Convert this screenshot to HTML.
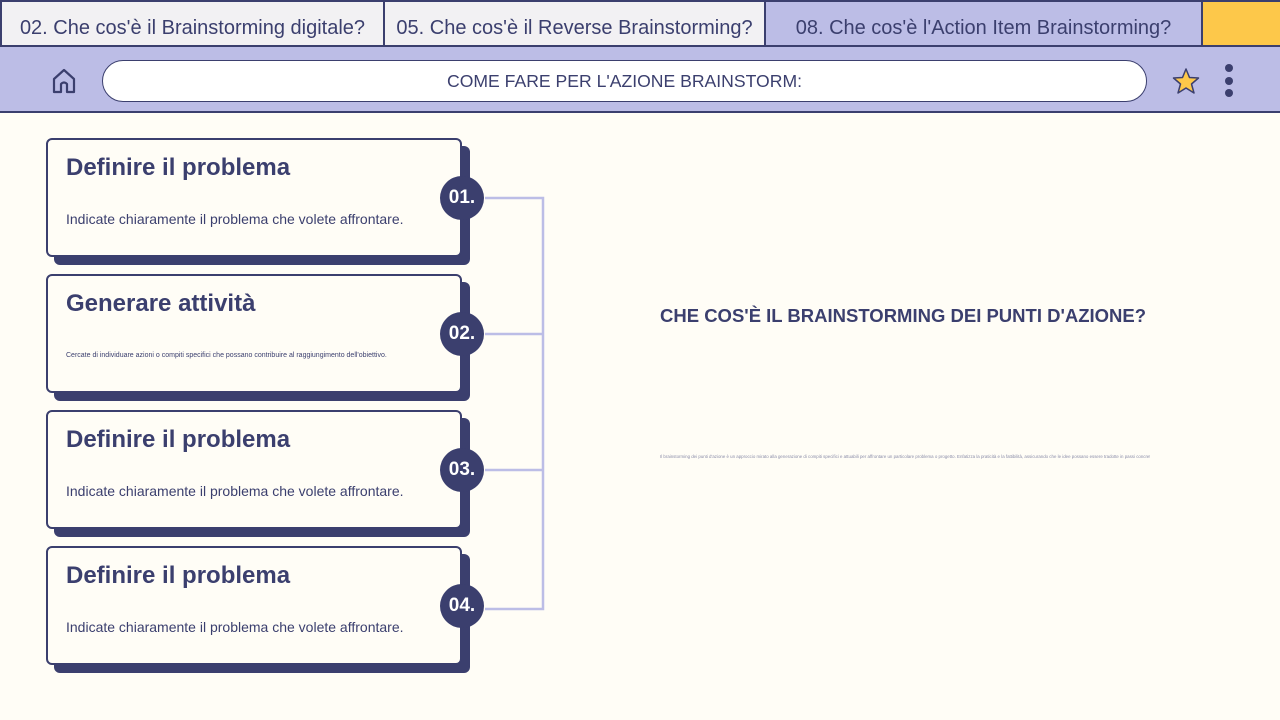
<!DOCTYPE html><html><head><style>
body{margin:0;width:1280px;height:720px;background:#fffdf6;font-family:"Liberation Sans",sans-serif;position:relative;overflow:hidden;color:#3b3f6e}
.tab{position:absolute;top:0;height:47px;border:2px solid #3b3f6e;box-sizing:border-box;font-size:20px;line-height:52px;text-align:center;background:#f2f1f3}
.hdr{position:absolute;top:47px;left:0;width:1280px;height:66px;background:#bcbde6;border-bottom:2px solid #3b3f6e;box-sizing:border-box}
.pill{position:absolute;left:102px;top:60px;width:1045px;height:42px;background:#fff;border:1px solid #3b3f6e;border-radius:21px;box-sizing:border-box;text-align:center;line-height:40px;font-size:17.6px}
.sh{position:absolute;width:416px;height:119px;background:#3b3f6e;border-radius:6px}
.card{position:absolute;width:416px;height:119px;background:#fffdf6;border:2px solid #3b3f6e;border-radius:6px;box-sizing:border-box}
.card h2{position:absolute;left:18px;top:14px;margin:0;font-size:24px;font-weight:bold}
.card p{position:absolute;left:18px;top:71px;margin:0;font-size:14px}
.c{position:absolute;width:44px;height:44px;border-radius:50%;background:#3b3f6e;color:#fff;font-weight:bold;font-size:19px;text-align:center;line-height:44px}
</style></head><body>
<div class="tab" style="left:0;width:385px">02. Che cos'è il Brainstorming digitale?</div>
<div class="tab" style="left:383px;width:383px">05. Che cos'è il Reverse Brainstorming?</div>
<div class="tab" style="left:764px;width:439px;background:#bcbde6">08. Che cos'è l'Action Item Brainstorming?</div>
<div class="tab" style="left:1201px;width:79px;background:#fdc84a;border-right:none"></div>
<div class="hdr"></div>
<svg style="position:absolute;left:50px;top:67px" width="28" height="28" viewBox="0 0 28 28"><path d="M4 25V12L14 3L24 12V25H17V17Q14 14 11 17V25Z" fill="none" stroke="#3b3f6e" stroke-width="2.2" stroke-linejoin="round"/></svg>
<div class="pill">COME FARE PER L'AZIONE BRAINSTORM:</div>
<svg style="position:absolute;left:1171px;top:67px" width="30" height="28" viewBox="0 0 30 28"><path d="M15 2L18.5 10.5L27.5 11L20.5 17L23 26L15 21L7 26L9.5 17L2.5 11L11.5 10.5Z" fill="#fdc84a" stroke="#3b3f6e" stroke-width="1.5" stroke-linejoin="round"/></svg>
<div style="position:absolute;left:1225px;top:64px;width:8px;height:8px;border-radius:50%;background:#3b3f6e"></div>
<div style="position:absolute;left:1225px;top:77px;width:8px;height:8px;border-radius:50%;background:#3b3f6e"></div>
<div style="position:absolute;left:1225px;top:89px;width:8px;height:8px;border-radius:50%;background:#3b3f6e"></div>
<svg style="position:absolute;left:0;top:0" width="1280" height="720"><path d="M485 198H543V609H485M485 334H543M485 470H543" fill="none" stroke="#bcbde6" stroke-width="2.5"/></svg>

<div class="sh" style="left:54px;top:146px"></div><div class="card" style="left:46px;top:138px"><h2>Definire il problema</h2><p>Indicate chiaramente il problema che volete affrontare.</p></div><div class="c" style="left:440px;top:176px">01.</div>
<div class="sh" style="left:54px;top:282px"></div><div class="card" style="left:46px;top:274px"><h2>Generare attività</h2><p style="font-size:7px;top:76px">Cercate di individuare azioni o compiti specifici che possano contribuire al raggiungimento dell'obiettivo.</p></div><div class="c" style="left:440px;top:312px">02.</div>
<div class="sh" style="left:54px;top:418px"></div><div class="card" style="left:46px;top:410px"><h2>Definire il problema</h2><p>Indicate chiaramente il problema che volete affrontare.</p></div><div class="c" style="left:440px;top:448px">03.</div>
<div class="sh" style="left:54px;top:554px"></div><div class="card" style="left:46px;top:546px"><h2>Definire il problema</h2><p>Indicate chiaramente il problema che volete affrontare.</p></div><div class="c" style="left:440px;top:584px">04.</div>

<div style="position:absolute;left:660px;top:305px;font-size:18.5px;font-weight:bold">CHE COS'È IL BRAINSTORMING DEI PUNTI D'AZIONE?</div>
<div style="position:absolute;left:660px;top:454px;width:490px;font-size:4.4px;color:#8a8ca8;white-space:nowrap;overflow:hidden">Il brainstorming dei punti d'azione è un approccio mirato alla generazione di compiti specifici e attuabili per affrontare un particolare problema o progetto. Enfatizza la praticità e la fattibilità, assicurando che le idee possano essere tradotte in passi concreti.</div>
</body></html>
